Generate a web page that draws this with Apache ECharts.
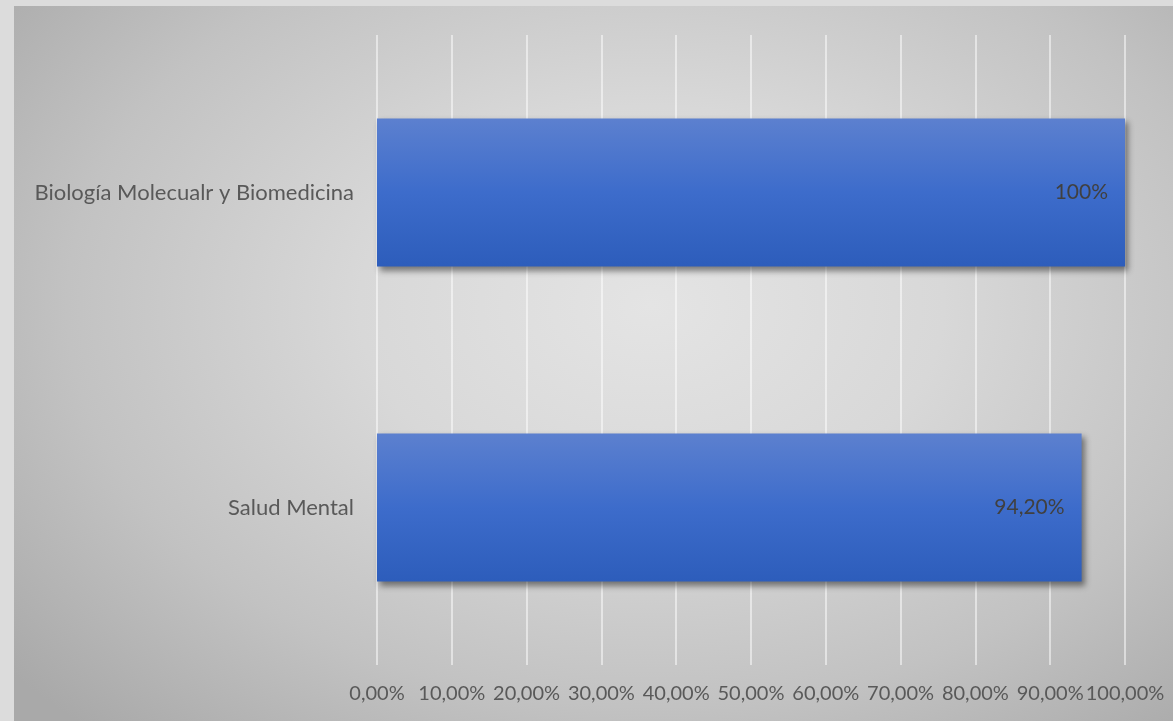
<!DOCTYPE html>
<html>
<head>
<meta charset="utf-8">
<script src="https://cdn.jsdelivr.net/npm/echarts@6/dist/echarts.min.js"></script>
<style>
html,body{margin:0;padding:0;width:1173px;height:721px;background:#dcdcdc;overflow:hidden;}
#chart{position:absolute;left:14px;top:6px;width:1159px;height:715px;
background:radial-gradient(ellipse 72% 80% at 55% 42%, #e4e4e4 0%, #d8d8d8 35%, #c2c2c2 70%, #a9a9a9 100%);}
</style>
</head>
<body>
<div id="chart"></div>
<script>
const categories = ['Salud Mental', 'Biología Molecualr y Biomedicina'];
const values = [94.2, 100];
const valueLabels = ['94,20%', '100%'];
const tickLabels = ['0,00%','10,00%','20,00%','30,00%','40,00%','50,00%','60,00%','70,00%','80,00%','90,00%','100,00%'];

const chart = echarts.init(document.getElementById('chart'), null, {renderer:'canvas'});
const font = 'Lato, "Open Sans", sans-serif';
chart.setOption({
  backgroundColor: 'transparent',
  animation: false,
  grid: {left: 363, right: 48, top: 29, bottom: 56, containLabel: false},
  xAxis: {
    type: 'value', min: 0, max: 100, interval: 10,
    axisLine: {show: false}, axisTick: {show: false},
    splitLine: {show: true, lineStyle: {color: 'rgba(255,255,255,0.5)', width: 2}},
    axisLabel: {
      margin: 19, color: '#595959', fontSize: 20, fontFamily: font,
      showMinLabel: true, showMaxLabel: true, hideOverlap: false,
      formatter: v => tickLabels[Math.round(v/10)]
    }
  },
  yAxis: {
    type: 'category', data: categories,
    axisLine: {show: false}, axisTick: {show: false},
    axisLabel: {margin: 23, color: '#595959', fontSize: 22, fontFamily: font}
  },
  series: [{
    type: 'bar',
    data: values,
    barCategoryGap: '53%',
    itemStyle: {
      color: new echarts.graphic.LinearGradient(0,0,0,1,[
        {offset:0,color:'#5c80cf'},
        {offset:0.5,color:'#3d6ccb'},
        {offset:1,color:'#2d5dbb'}
      ]),
      shadowColor: 'rgba(0,0,0,0.45)', shadowBlur: 6, shadowOffsetX: 3, shadowOffsetY: 4
    },
    label: {
      show: true, position: 'insideRight', distance: 17,
      color: '#404040', fontSize: 21, fontFamily: font,
      formatter: p => valueLabels[p.dataIndex]
    }
  }]
});
</script>
</body>
</html>
